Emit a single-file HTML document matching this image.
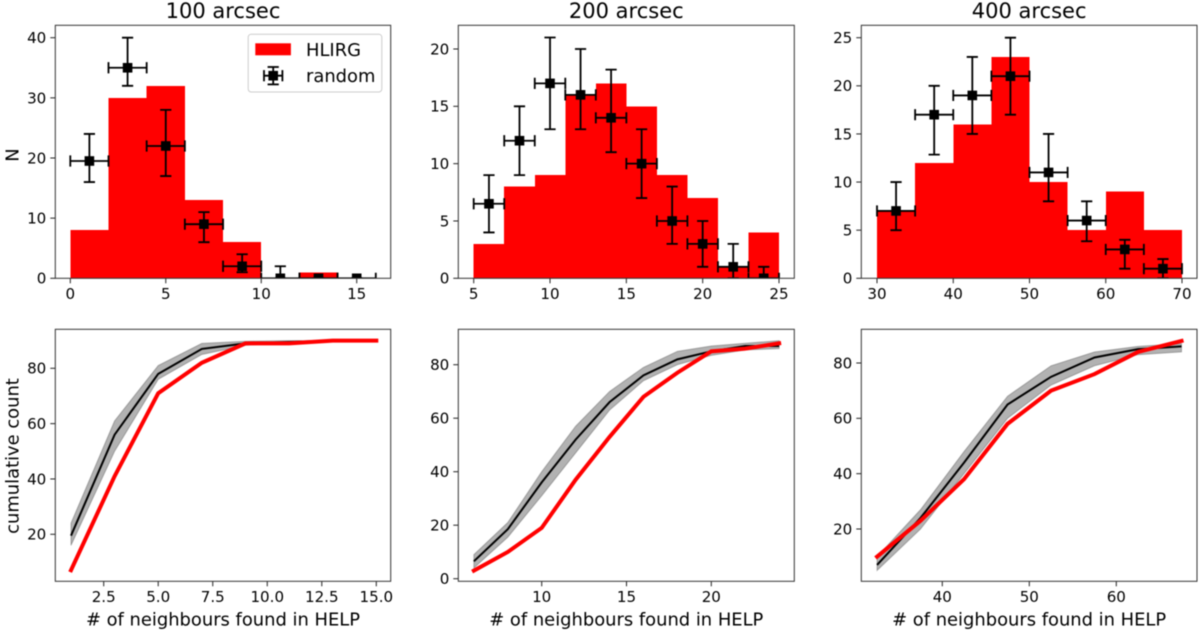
<!DOCTYPE html>
<html lang="en">
<head>
<meta charset="utf-8">
<title>Neighbour counts in HELP</title>
<style>
html,body{margin:0;padding:0;background:#fff;width:1200px;height:632px;overflow:hidden}
svg{display:block;filter:blur(0.4px)}
text{font-family:"DejaVu Sans","Liberation Sans",sans-serif;fill:#000}
</style>
</head>
<body>
<svg id="chart" xmlns="http://www.w3.org/2000/svg" width="1200" height="632" viewBox="0 0 1200 632"></svg>
<script>
// ---- Panel 1: 100 arcsec ----
const binEdges100 = [0,2,4,6,8,10,12,14,16];
const hlirgCounts100 = [8,30,32,13,6,0,1,0];
const randomX100 = [1,3,5,7,9,11,13,15];
const randomY100 = [19.5,35,22,9,2,0,0,0];
const randomLow100 = [16,32,17,6,1,0,0,0];
const randomHigh100 = [24,40,28,11,4,2,0,0];
const histXTicks100 = [0,5,10,15];
const histYTicks100 = [0,10,20,30,40];
const cumX100 = [1,3,5,7,9,11,13,15];
const cumRed100 = [7,41,71,82,89,89,90,90];
const cumBlack100 = [19.5,56,78,87,89,89.5,90,90];
const cumLow100 = [16,50,76,85,88.3,89.3,90,90];
const cumHigh100 = [24,61,81,89,89.8,90,90,90];
const cumXTicks100 = ['2.5','5.0','7.5','10.0','12.5','15.0'];
const cumYTicks100 = [20,40,60,80];

// ---- Panel 2: 200 arcsec ----
const binEdges200 = [5,7,9,11,13,15,17,19,21,23,25];
const hlirgCounts200 = [3,8,9,16,17,15,9,7,1,4];
const randomX200 = [6,8,10,12,14,16,18,20,22,24];
const randomY200 = [6.5,12,17,16,14,10,5,3,1,0];
const randomLow200 = [4,9,13,13,11,7,3,1,0,0];
const randomHigh200 = [9,15,21,20,18.2,13,8,5,3,1];
const histXTicks200 = [5,10,15,20,25];
const histYTicks200 = [0,5,10,15,20];
const cumX200 = [6,8,10,12,14,16,18,20,22,24];
const cumRed200 = [3,10,19,37,53,68,77,85,86,88];
const cumBlack200 = [6.5,18.5,36,52,66,76,82,85,87,87];
const cumLow200 = [4,15.5,31,47,63,74,80,83.5,85.5,86];
const cumHigh200 = [9,21,40,57,70,79,85,87,88,89];
const cumXTicks200 = ['10','15','20'];
const cumYTicks200 = [0,20,40,60,80];

// ---- Panel 3: 400 arcsec ----
const binEdges400 = [30,35,40,45,50,55,60,65,70];
const hlirgCounts400 = [7,12,16,23,10,5,9,5];
const randomX400 = [32.5,37.5,42.5,47.5,52.5,57.5,62.5,67.5];
const randomY400 = [7,17,19,21,11,6,3,1];
const randomLow400 = [5,12.85,15,17,8,3.85,1,0];
const randomHigh400 = [10,20,23,25,15,8,4,2];
const histXTicks400 = [30,40,50,60,70];
const histYTicks400 = [0,5,10,15,20,25];
const cumX400 = [32.5,37.5,42.5,47.5,52.5,57.5,62.5,67.5];
const cumRed400 = [10,23,38,58,70,76,84,88];
const cumBlack400 = [7,24,44,65,75,82,85,86];
const cumLow400 = [5,20,40,60,72,79,83,84];
const cumHigh400 = [10,27,48,68,79,84,86,87];
const cumXTicks400 = ['40','50','60'];
const cumYTicks400 = [20,40,60,80];

const NS = 'http://www.w3.org/2000/svg';
const root = document.getElementById('chart');

function mk(parent, tag, attrs, txt) {
  const el = document.createElementNS(NS, tag);
  for (const k in attrs) el.setAttribute(k, attrs[k]);
  if (txt !== undefined) el.textContent = txt;
  parent.appendChild(el);
  return el;
}
function linear(d0, d1, r0, r1) {
  return v => r0 + (Number(v) - d0) * (r1 - r0) / (d1 - d0);
}
function group(parent, name) {
  const g = mk(parent, 'g', {});
  
  
  return g;
}
function label(parent, name, x, y, str, size, anchor, extra) {
  const t = mk(parent, 'text', Object.assign({x: x, y: y, 'font-size': size, 'text-anchor': anchor}, extra || {}), str);
  
  
  return t;
}
function frameAndTicks(g, box, sx, sy, xTicks, yTicks) {
  const ticks = group(g, 'axis-ticks');
  xTicks.forEach(v => {
    const x = sx(v);
    mk(ticks, 'line', {x1: x, x2: x, y1: box.b, y2: box.b + 5, stroke: '#222', 'stroke-width': 1});
    label(ticks, 'x-tick-label', x, box.b + 20.8, String(v), 15.1, 'middle');
  });
  yTicks.forEach(v => {
    const y = sy(v);
    mk(ticks, 'line', {x1: box.l - 5, x2: box.l, y1: y, y2: y, stroke: '#222', 'stroke-width': 1});
    label(ticks, 'y-tick-label', box.l - 9, y + 5.4, String(v), 15.1, 'end');
  });
  const frame = mk(g, 'rect', {x: box.l, y: box.t, width: box.r - box.l, height: box.b - box.t, fill: 'none', stroke: '#333', 'stroke-width': 1});
  
  
}
let clipCount = 0;
function clipFor(box) {
  const id = 'clip' + (clipCount++);
  const cp = mk(root, 'clipPath', {id: id});
  mk(cp, 'rect', {x: box.l, y: box.t, width: box.r - box.l, height: box.b - box.t});
  return 'url(#' + id + ')';
}
function errorPoint(g, px, py, xl, xr, yl, yh) {
  const cap = 5.6;
  const common = {stroke: '#000', 'stroke-width': 1.8};
  mk(g, 'line', Object.assign({x1: xl, x2: xr, y1: py, y2: py}, common));
  mk(g, 'line', Object.assign({x1: px, x2: px, y1: yl, y2: yh}, common));
  mk(g, 'line', Object.assign({x1: xl, x2: xl, y1: py - cap, y2: py + cap}, common));
  mk(g, 'line', Object.assign({x1: xr, x2: xr, y1: py - cap, y2: py + cap}, common));
  mk(g, 'line', Object.assign({x1: px - cap, x2: px + cap, y1: yl, y2: yl}, common));
  mk(g, 'line', Object.assign({x1: px - cap, x2: px + cap, y1: yh, y2: yh}, common));
  mk(g, 'rect', {x: px - 4.8, y: py - 4.8, width: 9.6, height: 9.6, fill: '#000'});
}
function histPanel(name, box, sx, sy, edges, counts, xs, ys, lows, highs, xTicks, yTicks, title) {
  const g = group(root, name);
  const clip = clipFor(box);
  const bars = group(g, 'hlirg-histogram');
  bars.setAttribute('clip-path', clip);
  counts.forEach((c, i) => {
    if (c <= 0) return;
    const bar = mk(bars, 'rect', {x: sx(edges[i]), y: sy(c), width: sx(edges[i + 1]) - sx(edges[i]), height: sy(0) - sy(c), fill: '#ff0000', 'shape-rendering': 'crispEdges'});
    
    
  });
  const pts = group(g, 'random-points');
  pts.setAttribute('clip-path', clip);
  xs.forEach((x, i) => {
    const p = group(pts, 'random-point');
    errorPoint(p, sx(x), sy(ys[i]), sx(edges[i]), sx(edges[i + 1]), sy(lows[i]), sy(highs[i]));
  });
  frameAndTicks(g, box, sx, sy, xTicks, yTicks);
  label(g, 'panel-title', (box.l + box.r) / 2, 18, title, 21, 'middle');
  return g;
}
function polyPts(xs, ys, sx, sy) {
  return xs.map((x, i) => sx(x).toFixed(2) + ',' + sy(ys[i]).toFixed(2)).join(' ');
}
function cumPanel(name, box, sx, sy, xs, red, black, low, high, xTicks, yTicks) {
  const g = group(root, name);
  const clip = clipFor(box);
  const plot = group(g, 'cumulative-plot');
  plot.setAttribute('clip-path', clip);
  const upper = polyPts(xs, high, sx, sy);
  const lower = xs.map((x, i) => sx(x).toFixed(2) + ',' + sy(low[i]).toFixed(2)).reverse().join(' ');
  const band = mk(plot, 'polygon', {points: upper + ' ' + lower, fill: '#000', 'fill-opacity': 0.3, stroke: '#000', 'stroke-opacity': 0.25, 'stroke-width': 1});
  
  
  const bl = mk(plot, 'polyline', {points: polyPts(xs, black, sx, sy), fill: 'none', stroke: '#000', 'stroke-width': 2});
  
  
  const rd = mk(plot, 'polyline', {points: polyPts(xs, red, sx, sy), fill: 'none', stroke: '#ff0000', 'stroke-width': 4, 'stroke-linecap': 'square'});
  
  
  frameAndTicks(g, box, sx, sy, xTicks, yTicks);
  label(g, 'x-axis-title', (box.l + box.r) / 2, 625.5, '# of neighbours found in HELP', 17.9, 'middle');
  return g;
}

const topT = 25.3, topB = 278.3, botT = 329.3, botB = 581.3;
const L = [55.3, 458.3, 861.3], R = [390.7, 794.3, 1197];

const h1 = histPanel('histogram-100-arcsec', {l: L[0], r: R[0], t: topT, b: topB},
  linear(0, 15, 70.3, 356.7), linear(0, 40, 278.3, 37.7),
  binEdges100, hlirgCounts100, randomX100, randomY100, randomLow100, randomHigh100, histXTicks100, histYTicks100, '100 arcsec');
histPanel('histogram-200-arcsec', {l: L[1], r: R[1], t: topT, b: topB},
  linear(5, 25, 473.7, 779), linear(0, 20, 278.3, 49),
  binEdges200, hlirgCounts200, randomX200, randomY200, randomLow200, randomHigh200, histXTicks200, histYTicks200, '200 arcsec');
histPanel('histogram-400-arcsec', {l: L[2], r: R[2], t: topT, b: topB},
  linear(30, 70, 877, 1182), linear(0, 25, 278.3, 37.7),
  binEdges400, hlirgCounts400, randomX400, randomY400, randomLow400, randomHigh400, histXTicks400, histYTicks400, '400 arcsec');

const c1 = cumPanel('cumulative-100-arcsec', {l: L[0], r: R[0], t: botT, b: botB},
  linear(2.5, 15, 103.7, 376.3), linear(20, 80, 534.3, 368.3),
  cumX100, cumRed100, cumBlack100, cumLow100, cumHigh100, cumXTicks100, cumYTicks100);
cumPanel('cumulative-200-arcsec', {l: L[1], r: R[1], t: botT, b: botB},
  linear(10, 20, 541.7, 711.3), linear(0, 80, 578.7, 364.7),
  cumX200, cumRed200, cumBlack200, cumLow200, cumHigh200, cumXTicks200, cumYTicks200);
cumPanel('cumulative-400-arcsec', {l: L[2], r: R[2], t: botT, b: botB},
  linear(40, 60, 942.3, 1116.3), linear(20, 80, 529, 363),
  cumX400, cumRed400, cumBlack400, cumLow400, cumHigh400, cumXTicks400, cumYTicks400);

label(h1, 'y-axis-title', 0, 0, 'N', 17.9, 'middle', {transform: 'translate(18.5,155) rotate(-90)'});
label(c1, 'y-axis-title', 0, 0, 'cumulative count', 17.9, 'middle', {transform: 'translate(18.5,456) rotate(-90)'});

// Legend
const legend = group(h1, 'legend');
mk(legend, 'rect', {x: 248.2, y: 34.2, width: 133.6, height: 57.8, rx: 3, ry: 3, fill: '#fff', 'fill-opacity': 0.85, stroke: '#ccc', 'stroke-width': 1});
const swatch = mk(legend, 'rect', {x: 255.3, y: 43.3, width: 35.6, height: 12, fill: '#ff0000'});


label(legend, 'legend-label-hlirg', 306, 56, 'HLIRG', 17.9, 'start');
const legendMark = group(legend, 'legend-marker-random');
errorPoint(legendMark, 273.2, 75.7, 264, 282.4, 84.4, 67);
label(legend, 'legend-label-random', 306, 82, 'random', 17.9, 'start');
</script>
</body>
</html>
